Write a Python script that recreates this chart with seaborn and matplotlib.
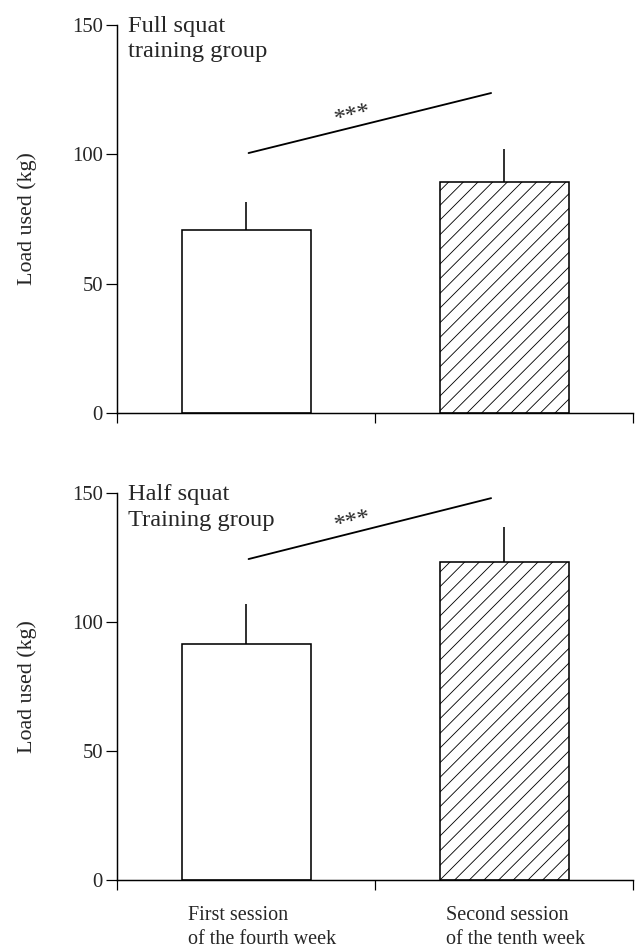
import pandas as pd
import seaborn as sns
import matplotlib.pyplot as plt
from matplotlib import transforms

# datos
sessions = ["First session\nof the fourth week", "Second session\nof the tenth week"]
groups = ["Full squat\ntraining group", "Half squat\nTraining group"]
full_load = [70.7, 89.3]
full_sd = [10.9, 12.7]
half_load = [91.5, 123.3]
half_sd = [15.5, 13.5]
y_ticks = [0, 50, 100, 150]

# linea de significacion (extremos) y posicion de los asteriscos
full_sig_x = [0.01, 0.95]
full_sig_y = [100.5, 123.7]
half_sig_x = [0.01, 0.95]
half_sig_y = [124.4, 148.0]
star_x = 0.42
full_star_y = 113.0
half_star_y = 137.0

sns.set_style("ticks")
plt.rcParams["font.family"] = ["Liberation Serif", "DejaVu Serif"]
plt.rcParams["hatch.linewidth"] = 0.7

DPI = 88
fig = plt.figure(figsize=(636 / DPI, 950 / DPI), dpi=DPI)
ax_top = fig.add_axes([117 / 636, 1 - 413 / 950, 516 / 636, 388 / 950])
ax_bot = fig.add_axes([117 / 636, 1 - 880 / 950, 516 / 636, 387 / 950])


def panel(ax, loads, sds, group, sig_x, sig_y, star_y, show_labels):
    df = pd.DataFrame({"sesion": sessions, "carga": loads})
    sns.barplot(data=df, x="sesion", y="carga", color="white", edgecolor="black",
                linewidth=1.3, width=0.5, saturation=1, errorbar=None, ax=ax)
    ax.patches[1].set_hatch("//")
    ax.errorbar(range(len(loads)), loads, yerr=[[0] * len(sds), sds], fmt="none",
                ecolor="black", elinewidth=1.3, capsize=0, zorder=1)

    ax.plot(sig_x, sig_y, color="black", lw=1.5)
    ax.text(star_x, star_y, "***", fontsize=20, ha="center", va="baseline",
            rotation=14, rotation_mode="anchor")

    ax.text(0.022, 1.024, group, transform=ax.transAxes, ha="left", va="top",
            fontsize=20, linespacing=1.3)

    ax.set_ylim(0, 150)
    ax.set_xlim(-0.5, 1.5)
    ax.set_yticks(y_ticks)
    ax.set_xticks([-0.5, 0.5, 1.5])
    ax.set_xticklabels([])
    ax.tick_params(axis="y", direction="out", length=9, width=1.0, pad=2.5,
                   labelsize=17, color="black")
    ax.tick_params(axis="x", direction="out", length=8, width=1.0, color="black")
    ax.set_xlabel("")
    ax.set_ylabel("Load used (kg)", fontsize=18)
    ax.yaxis.set_label_coords(-0.155, 0.5)
    for s in ["left", "bottom"]:
        ax.spines[s].set_linewidth(1.2)
        ax.spines[s].set_color("black")
    sns.despine(ax=ax)

    if show_labels:
        trans = transforms.blended_transform_factory(ax.transData, ax.transAxes)
        for i, lab in enumerate(sessions):
            ax.text(i - 0.225, -0.068, lab, transform=trans, ha="left", va="top",
                    fontsize=16.5, linespacing=1.3)


panel(ax_top, full_load, full_sd, groups[0], full_sig_x, full_sig_y, full_star_y, False)
panel(ax_bot, half_load, half_sd, groups[1], half_sig_x, half_sig_y, half_star_y, True)

fig.savefig("out.png", dpi=DPI)
